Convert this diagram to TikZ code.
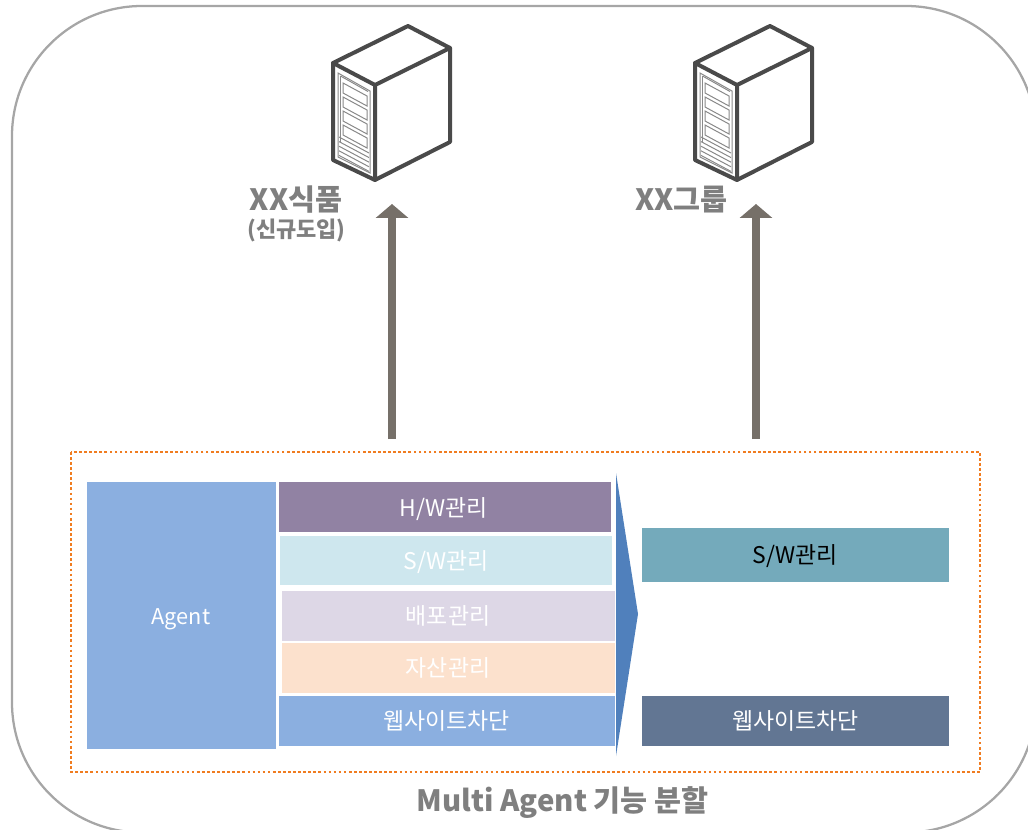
\documentclass[tikz,border=0pt]{standalone}
\usepackage{fontspec}
\setmainfont{Noto Sans CJK KR}
\usetikzlibrary{arrows.meta}
\definecolor{srv}{HTML}{4A4A4A}
\definecolor{arrowc}{HTML}{767069}
\definecolor{lbl}{HTML}{7F7F7F}
\definecolor{dots}{HTML}{F07C20}
\tikzset{
  every node/.style={font=\fontsize{17.2}{19}\selectfont, inner sep=0pt},
  head/.style={font=\fontsize{22}{24}\selectfont\bfseries, text=lbl},
  srvline/.style={draw=srv, line width=3pt, line join=round, line cap=round},
  srvthin/.style={draw=srv!65, line width=0.75pt},
  up/.style={draw=arrowc, line width=6pt, -{Triangle[length=10.5pt,width=24pt,fill=arrowc]}},
  server/.pic={
    \draw[srvline] (333,63) -- (408,26) -- (450,48) -- (375,85) -- cycle;
    \draw[srvline] (333,63) -- (333,160) -- (375,180) -- (375,85);
    \draw[srvline] (450,48) -- (450,142) -- (375,180);
    \draw[srvthin] (338,73) -- (370,91) -- (370,173) -- (338,157) -- cycle;
    \draw[srvthin] (340.5,76) -- (368,91.5);
    \draw[srvthin] (340.5,76) -- (340.5,142);
    \foreach \i in {0,1,2,3} {
      \draw[srvthin] (343,{83+\i*14}) -- (367,{96+\i*14}) -- (367,{106+\i*14}) -- (343,{93+\i*14}) -- cycle;
    }
    \foreach \i in {0,1,2,3,4} {
      \draw[srvthin] (339,{137+\i*4.6}) -- (369,{153+\i*4.6});
    }
  }
}
\begin{document}
\begin{tikzpicture}[x=0.75pt,y=-0.75pt]
\useasboundingbox (0,0) rectangle (1028,830);
\clip (0,0) rectangle (1028,830);
\draw[draw=black!35, line width=1.7pt, rounded corners=97.5pt] (12,6) rectangle (1036,832.5);
\pic at (0,0) {server};
\pic at (362,0) {server};
\node[head] (food) at (296,200) {XX식품};
\node[font=\fontsize{16.5}{18}\selectfont\bfseries, text=lbl] (foodsub) at (296.5,230) {(신규도입)};
\node[head] (group) at (681.5,200) {XX그룹};
\coordinate (a1s) at (392,439); \coordinate (a1e) at (392,204);
\coordinate (a2s) at (756,439); \coordinate (a2e) at (756,204);
\draw[up] (a1s) -- (a1e);
\draw[up] (a2s) -- (a2e);
\draw[draw=dots, line width=2pt, dash pattern=on 2pt off 1.8pt] (71,452) rectangle (980,772);
\fill[fill={rgb,255:red,139;green,175;blue,224}] (87,482) rectangle (276,749);
\node[text=white, font=\fontsize{16.3}{18}\selectfont] (agent) at (181,619) {Agent};
\fill[fill={rgb,255:red,145;green,130;blue,163}] (279,482) rectangle (611,532);
\node[text=white] (hw) at (444,509) {H/W관리};
\fill[fill={rgb,255:red,206;green,231;blue,238}] (280,536) rectangle (612,585);
\node[text=white] (sw) at (446,562) {S/W관리};
\fill[fill={rgb,255:red,221;green,215;blue,230}] (282,591) rectangle (615,641);
\node[text=white] (dist) at (448,616) {배포관리};
\fill[fill={rgb,255:red,252;green,225;blue,205}] (282,643) rectangle (615,693);
\node[text=white] (asset) at (448,668) {자산관리};
\fill[fill={rgb,255:red,139;green,175;blue,224}] (279,696) rectangle (615,746);
\node[text=white] (web) at (446.5,721) {웹사이트차단};
\fill[fill={rgb,255:red,80;green,128;blue,188}] (616,473) -- (638,614) -- (616,756) -- cycle;
\fill[fill={rgb,255:red,116;green,170;blue,187}] (642,528) rectangle (949,582);
\node[text=black] (sw2) at (795,556) {S/W관리};
\fill[fill={rgb,255:red,98;green,118;blue,147}] (642,696) rectangle (949,746);
\node[text=white] (web2) at (795.5,721) {웹사이트차단};
\node[head] (cap) at (562.5,803) {Multi Agent 기능 분할};
\end{tikzpicture}
\end{document}
